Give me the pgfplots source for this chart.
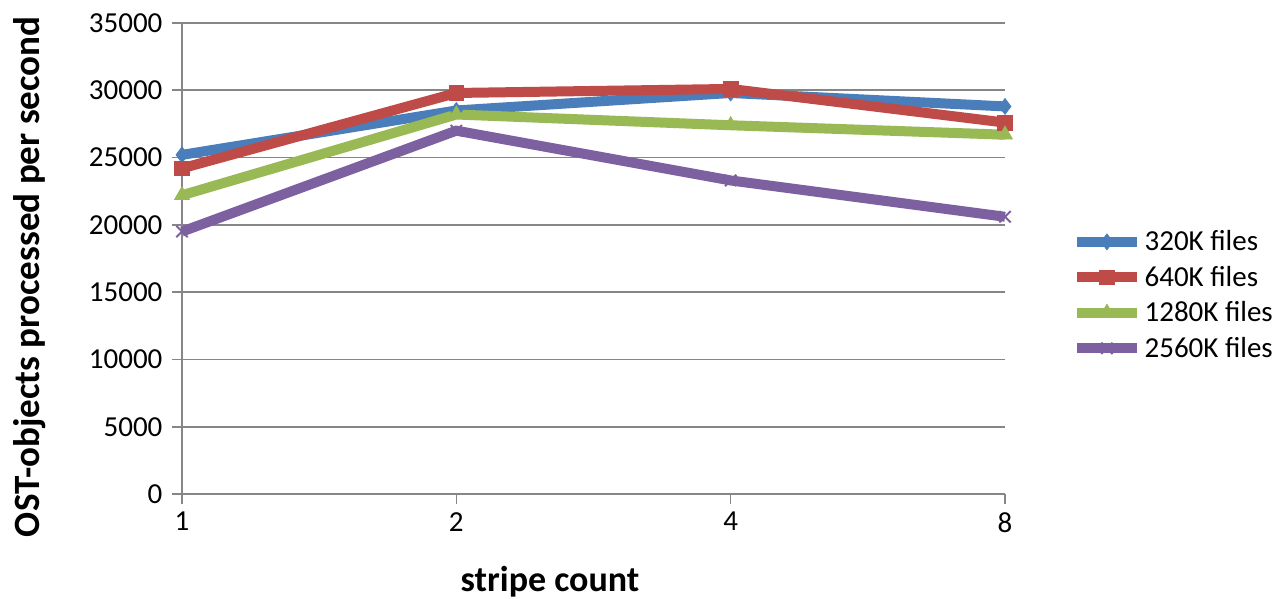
\documentclass[border=0pt]{standalone}
\usepackage{pgfplots}
\pgfplotsset{compat=1.18}
\usepackage{fontspec}
\setmainfont{Carlito}
\definecolor{cblue}{HTML}{4A7EBB}
\definecolor{cred}{HTML}{BE4B48}
\definecolor{cgreen}{HTML}{98B954}
\definecolor{cpurple}{HTML}{7D60A0}
\definecolor{cgrid}{HTML}{868686}
\begin{document}
\begin{tikzpicture}
\path[use as bounding box] (-136.5pt,-78.75pt) rectangle (818.25pt,370.5pt);
\begin{axis}[
  at={(0,0)}, anchor=south west,
  scale only axis, width=617.25pt, height=353.25pt,
  xmin=0, xmax=3, ymin=0, ymax=35000,
  xtick={0,1,2,3}, xticklabels={1,2,4,8},
  ytick={0,5000,...,35000},
  axis x line=bottom, axis y line=left,
  axis line style={-, draw=cgrid, line width=1.2pt},
  tick style={draw=cgrid, line width=1.2pt},
  tick align=outside, major tick length=7.5pt,
  ymajorgrids, grid style={draw=cgrid, line width=1.2pt},
  font=\fontsize{21.75pt}{26pt}\selectfont,
  /pgf/number format/assume math mode=true,
  scaled y ticks=false,
  yticklabel style={/pgf/number format/1000 sep={}, inner sep=0pt, xshift=-7pt},
  xticklabel style={inner sep=0pt, yshift=-6pt},
  legend style={draw=none, fill=none, at={(1.081,0.565)}, anchor=north west,
    font=\fontsize{21.75pt}{26pt}\selectfont, row sep=6pt, inner sep=0pt},
  legend cell align=left,
  legend image code/.code={\draw[#1, mark repeat=2, mark phase=2] plot coordinates {(0pt,0pt) (22.5pt,0pt) (45pt,0pt)};},
  clip=false,
]
\addplot[cblue, line width=7.5pt, mark=diamond*, mark size=6pt, mark options={solid, line width=0.5pt}] coordinates {(0,25200) (1,28500) (2,29800) (3,28800)};
\addlegendentry{320K files}
\addplot[cred, line width=7.5pt, mark=square*, mark size=5.5pt, mark options={solid, line width=0.5pt}] coordinates {(0,24200) (1,29800) (2,30100) (3,27600)};
\addlegendentry{640K files}
\addplot[cgreen, line width=7.5pt, mark=triangle*, mark size=6.5pt, mark options={solid, line width=0.5pt}] coordinates {(0,22200) (1,28200) (2,27400) (3,26700)};
\addlegendentry{1280K files}
\addplot[cpurple, line width=7.5pt, mark=x, mark size=6pt, mark options={solid, line width=1.5pt}] coordinates {(0,19500) (1,27000) (2,23300) (3,20600)};
\addlegendentry{2560K files}
\end{axis}
\node[font=\bfseries\fontsize{27pt}{30pt}\selectfont] at (276pt,-66pt) {stripe count};
\node[font=\bfseries\fontsize{27.8pt}{30pt}\selectfont, rotate=90] at (-114pt,163pt) {OST-objects processed per second};
\end{tikzpicture}
\end{document}
